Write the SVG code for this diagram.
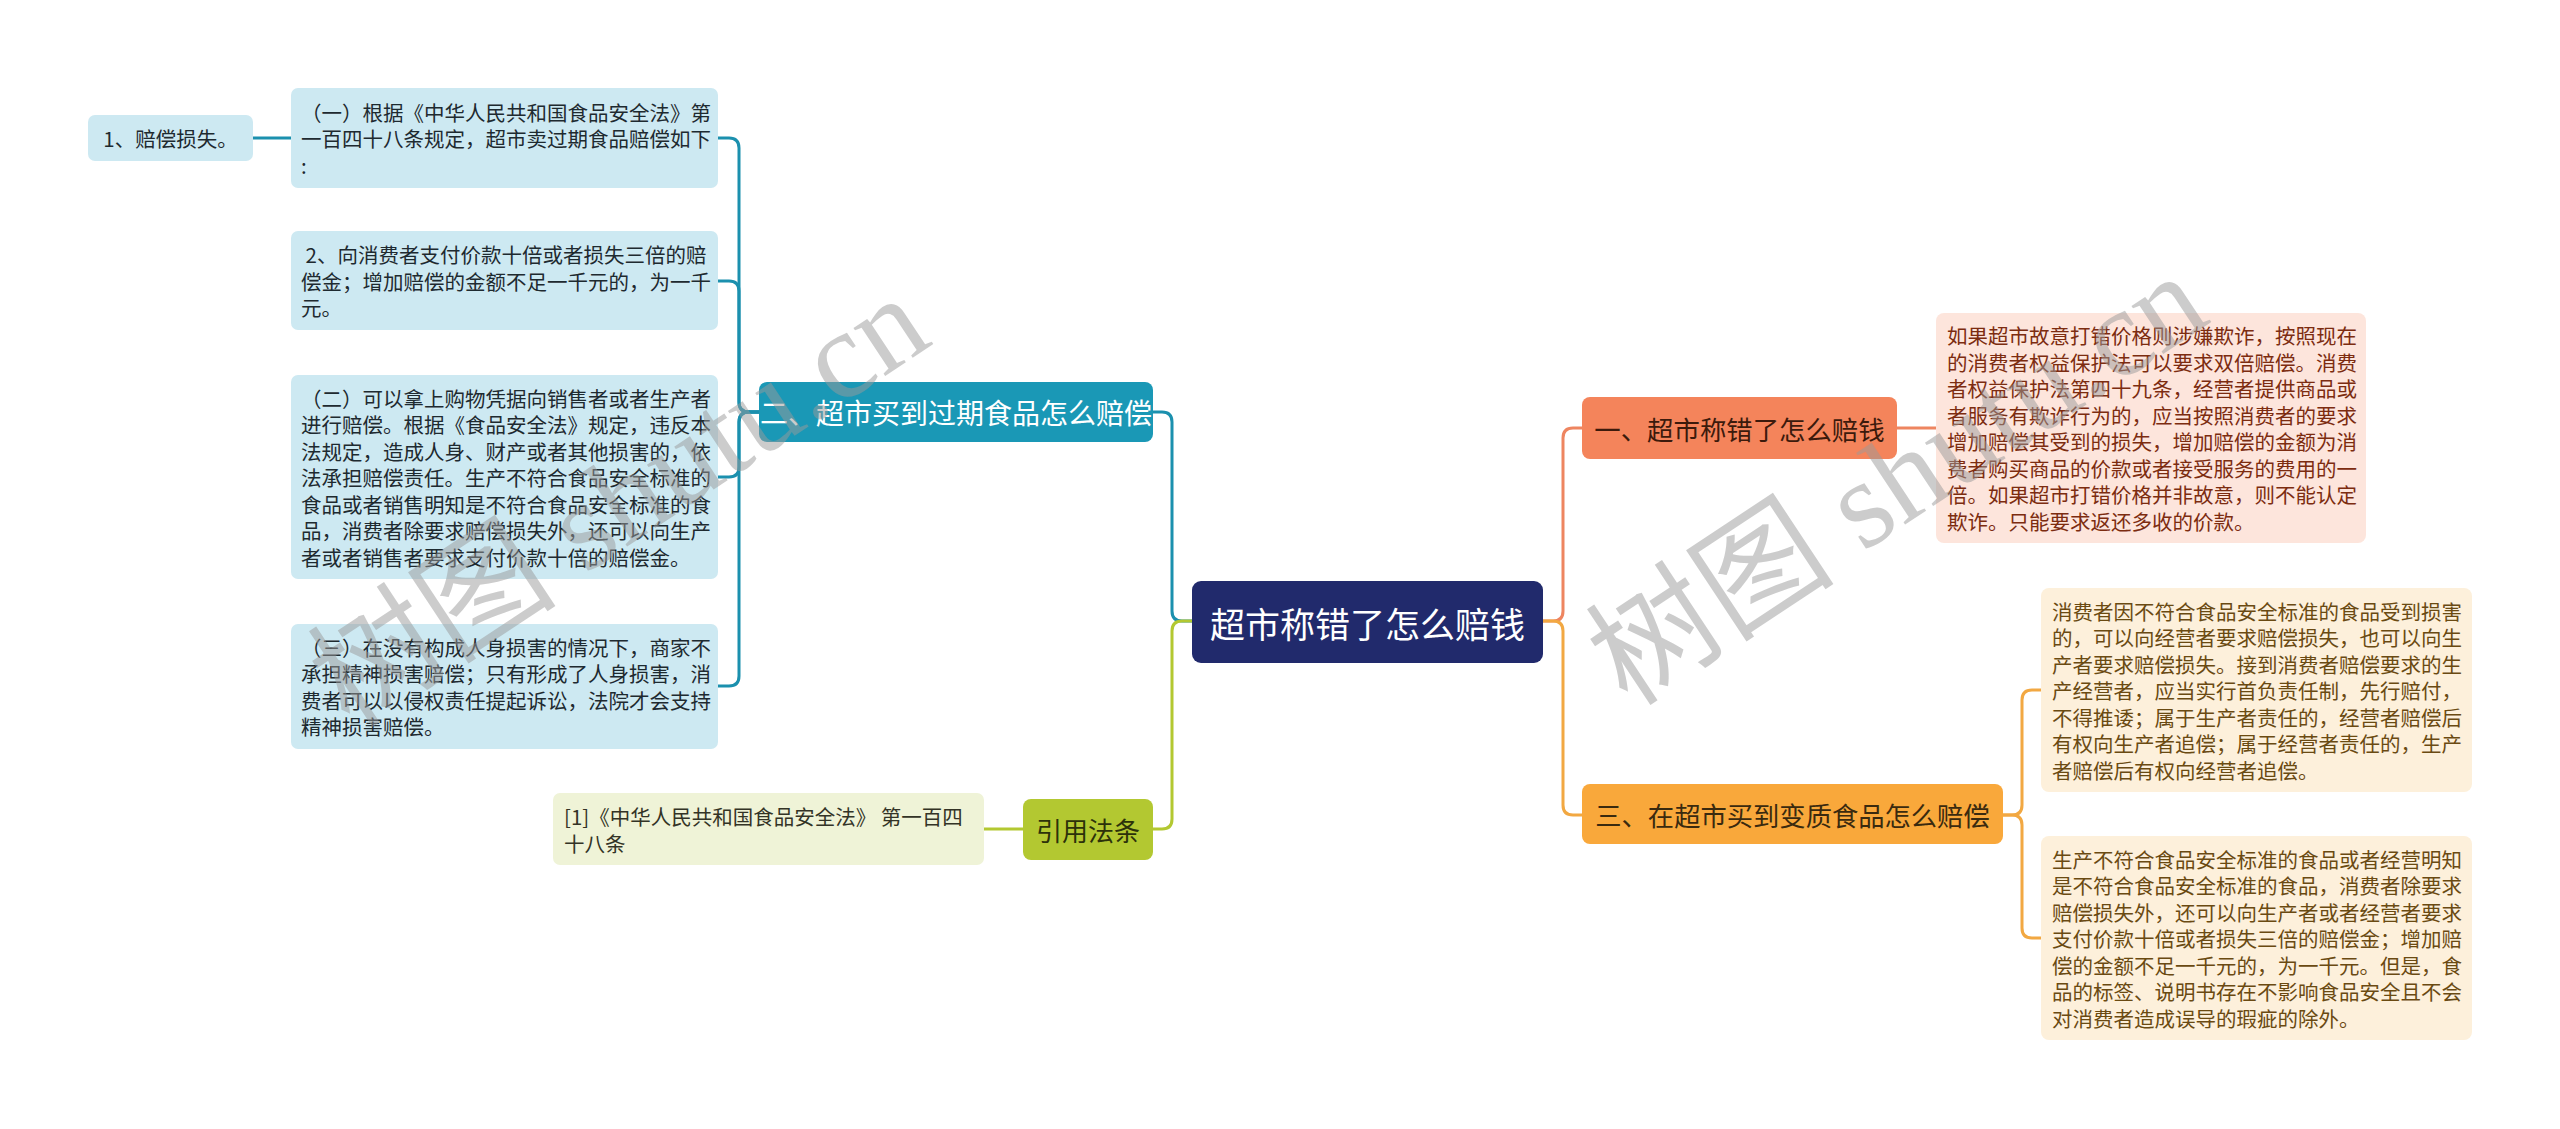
<svg xmlns="http://www.w3.org/2000/svg" width="2560" height="1129" viewBox="0 0 2560 1129">
<style>
.body{font-family:"Noto Sans CJK SC","Noto Sans",sans-serif;font-size:20.5px;dominant-baseline:central}
.lbl{font-family:"Noto Sans CJK SC","Noto Sans",sans-serif;dominant-baseline:central;text-anchor:middle}
.ll{fill:#cde9f2}
.lt{fill:#1e2a30}
.cn{fill:none;stroke-width:3;stroke-linecap:round;stroke-linejoin:round}
.wm{font-family:"Liberation Serif","Noto Sans CJK SC",serif;font-size:125px;fill:#999999;fill-opacity:0.5}
</style>
<rect width="2560" height="1129" fill="#ffffff"/>
<g id="connectors">
<path class="cn" stroke="#1b90ae" d="M759 412 H749 Q739 412 739 402 V148 Q739 138 729 138 H718"/>
<path class="cn" stroke="#1b90ae" d="M759 412 H749 Q739 412 739 402 V291 Q739 281 729 281 H718"/>
<path class="cn" stroke="#1b90ae" d="M759 412 H749 Q739 412 739 422 V467 Q739 477 729 477 H718"/>
<path class="cn" stroke="#1b90ae" d="M759 412 H749 Q739 412 739 422 V676 Q739 686 729 686 H718"/>
<path class="cn" stroke="#1b90ae" d="M291 138 H253"/>
<path class="cn" stroke="#1b90ae" d="M1192 621 H1182 Q1172 621 1172 611 V422 Q1172 412 1162 412 H1153"/>
<path class="cn" stroke="#b3c831" d="M1192 621 H1182 Q1172 621 1172 631 V819 Q1172 829 1162 829 H1153"/>
<path class="cn" stroke="#b3c831" d="M1023 829 H984"/>
<path class="cn" stroke="#ee8560" d="M1543 621 H1553 Q1563 621 1563 611 V438 Q1563 428 1573 428 H1582"/>
<path class="cn" stroke="#f2a842" d="M1543 621 H1553 Q1563 621 1563 631 V805 Q1563 815 1573 815 H1582"/>
<path class="cn" stroke="#ee8560" d="M1897 428 H1936"/>
<path class="cn" stroke="#f2a842" d="M2003 815 H2012 Q2022 815 2022 805 V700 Q2022 690 2032 690 H2041"/>
<path class="cn" stroke="#f2a842" d="M2003 815 H2012 Q2022 815 2022 825 V928 Q2022 938 2032 938 H2041"/>
</g>
<g id="center">
<rect x="1192" y="581" width="351" height="82" rx="9" fill="#212a6c"/>
<text class="lbl" x="1367.5" y="622" font-size="35" fill="#ffffff">超市称错了怎么赔钱</text>
</g>
<g id="b2">
<rect x="759" y="382" width="394" height="60" rx="8" fill="#1a98b6"/>
<text class="lbl" x="956" y="412" font-size="28" fill="#ffffff">二、超市买到过期食品怎么赔偿</text>
</g>
<g id="b4">
<rect x="1023" y="799" width="130" height="61" rx="8" fill="#b3c831"/>
<text class="lbl" x="1088" y="829.5" font-size="26" fill="#2c320a">引用法条</text>
</g>
<g id="b1">
<rect x="1582" y="397" width="315" height="62" rx="8" fill="#f4845b"/>
<text class="lbl" x="1739.5" y="428" font-size="26.4" fill="#3c1a0c">一、超市称错了怎么赔钱</text>
</g>
<g id="b3">
<rect x="1582" y="784" width="421" height="60" rx="8" fill="#f9a83b"/>
<text class="lbl" x="1792.5" y="814" font-size="26.3" fill="#3a2a0f">三、在超市买到变质食品怎么赔偿</text>
</g>
<g id="l0">
<rect class="ll" x="88" y="115" width="165" height="46" rx="7"/>
<text class="lbl lt" x="170.5" y="138" font-size="20.5">1、赔偿损失。</text>
</g>
<g id="l1">
<rect class="ll" x="291" y="88" width="427" height="100" rx="7"/>
<text class="body lt"><tspan x="301" y="111.5">（一）根据《中华人民共和国食品安全法》第</tspan><tspan x="301" y="138">一百四十八条规定，超市卖过期食品赔偿如下</tspan><tspan x="301" y="164.5">:</tspan></text>
</g>
<g id="l2">
<rect class="ll" x="291" y="231" width="427" height="99" rx="7"/>
<text class="body lt"><tspan x="301" y="254">&#160;2、向消费者支付价款十倍或者损失三倍的赔</tspan><tspan x="301" y="280.5">偿金；增加赔偿的金额不足一千元的，为一千</tspan><tspan x="301" y="307">元。</tspan></text>
</g>
<g id="l3">
<rect class="ll" x="291" y="375" width="427" height="204" rx="7"/>
<text class="body lt"><tspan x="301" y="397.5">（二）可以拿上购物凭据向销售者或者生产者</tspan><tspan x="301" y="424">进行赔偿。根据《食品安全法》规定，违反本</tspan><tspan x="301" y="450.5">法规定，造成人身、财产或者其他损害的，依</tspan><tspan x="301" y="477">法承担赔偿责任。生产不符合食品安全标准的</tspan><tspan x="301" y="503.5">食品或者销售明知是不符合食品安全标准的食</tspan><tspan x="301" y="530">品，消费者除要求赔偿损失外，还可以向生产</tspan><tspan x="301" y="556.5">者或者销售者要求支付价款十倍的赔偿金。</tspan></text>
</g>
<g id="l4">
<rect class="ll" x="291" y="624" width="427" height="125" rx="7"/>
<text class="body lt"><tspan x="301" y="646.75">（三）在没有构成人身损害的情况下，商家不</tspan><tspan x="301" y="673.25">承担精神损害赔偿；只有形成了人身损害，消</tspan><tspan x="301" y="699.75">费者可以以侵权责任提起诉讼，法院才会支持</tspan><tspan x="301" y="726.25">精神损害赔偿。</tspan></text>
</g>
<g id="l5">
<rect x="553" y="793" width="431" height="72" rx="7" fill="#eff3d7"/>
<text class="body" fill="#333326"><tspan x="564" y="816">[1]《中华人民共和国食品安全法》 第一百四</tspan><tspan x="564" y="842.5">十八条</tspan></text>
</g>
<g id="r1">
<rect x="1936" y="313" width="430" height="230" rx="8" fill="#fde5dc"/>
<text class="body" fill="#7c2c10"><tspan x="1947" y="335.25">如果超市故意打错价格则涉嫌欺诈，按照现在</tspan><tspan x="1947" y="361.75">的消费者权益保护法可以要求双倍赔偿。消费</tspan><tspan x="1947" y="388.25">者权益保护法第四十九条，经营者提供商品或</tspan><tspan x="1947" y="414.75">者服务有欺诈行为的，应当按照消费者的要求</tspan><tspan x="1947" y="441.25">增加赔偿其受到的损失，增加赔偿的金额为消</tspan><tspan x="1947" y="467.75">费者购买商品的价款或者接受服务的费用的一</tspan><tspan x="1947" y="494.25">倍。如果超市打错价格并非故意，则不能认定</tspan><tspan x="1947" y="520.75">欺诈。只能要求返还多收的价款。</tspan></text>
</g>
<g id="r2">
<rect x="2041" y="588" width="431" height="204" rx="8" fill="#fdf0db"/>
<text class="body" fill="#6a4a12"><tspan x="2052" y="610.5">消费者因不符合食品安全标准的食品受到损害</tspan><tspan x="2052" y="637">的，可以向经营者要求赔偿损失，也可以向生</tspan><tspan x="2052" y="663.5">产者要求赔偿损失。接到消费者赔偿要求的生</tspan><tspan x="2052" y="690">产经营者，应当实行首负责任制，先行赔付，</tspan><tspan x="2052" y="716.5">不得推诿；属于生产者责任的，经营者赔偿后</tspan><tspan x="2052" y="743">有权向生产者追偿；属于经营者责任的，生产</tspan><tspan x="2052" y="769.5">者赔偿后有权向经营者追偿。</tspan></text>
</g>
<g id="r3">
<rect x="2041" y="836" width="431" height="204" rx="8" fill="#fdf0db"/>
<text class="body" fill="#6a4a12"><tspan x="2052" y="858.5">生产不符合食品安全标准的食品或者经营明知</tspan><tspan x="2052" y="885">是不符合食品安全标准的食品，消费者除要求</tspan><tspan x="2052" y="911.5">赔偿损失外，还可以向生产者或者经营者要求</tspan><tspan x="2052" y="938">支付价款十倍或者损失三倍的赔偿金；增加赔</tspan><tspan x="2052" y="964.5">偿的金额不足一千元的，为一千元。但是，食</tspan><tspan x="2052" y="991">品的标签、说明书存在不影响食品安全且不会</tspan><tspan x="2052" y="1017.5">对消费者造成误导的瑕疵的除外。</tspan></text>
</g>
<g id="watermark">
<text class="wm" transform="translate(350 730) rotate(-33.5)">树图 shutu.cn</text>
<text class="wm" transform="translate(1628 708) rotate(-33.5)">树图 shutu.cn</text>
</g>
</svg>
